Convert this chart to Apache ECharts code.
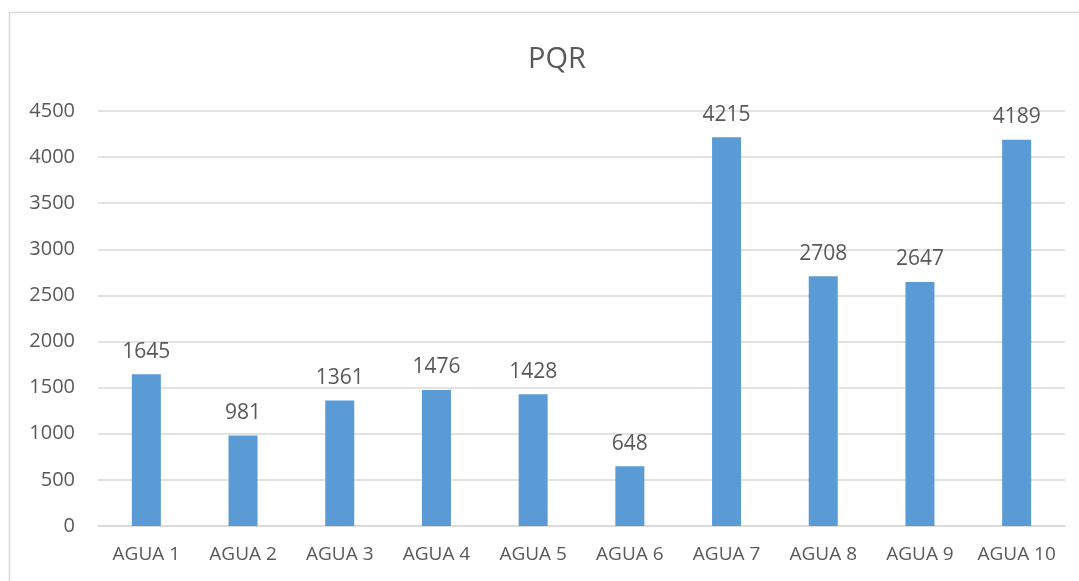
<!DOCTYPE html>
<html>
<head>
<meta charset="utf-8">
<script src="https://cdn.jsdelivr.net/npm/echarts@6/dist/echarts.min.js"></script>
<style>
  html, body { margin: 0; padding: 0; background: #fff; }
  #chart { width: 1079px; height: 581px; }
</style>
</head>
<body>
<div id="chart"></div>
<script>
const categories = ['AGUA 1', 'AGUA 2', 'AGUA 3', 'AGUA 4', 'AGUA 5', 'AGUA 6', 'AGUA 7', 'AGUA 8', 'AGUA 9', 'AGUA 10'];
const pqrValues = [1645, 981, 1361, 1476, 1428, 648, 4215, 2708, 2647, 4189];
const yTicks = { min: 0, max: 4500, interval: 500 };

const textColor = '#595959';
const fontFamily = '"Open Sans", "Liberation Sans", sans-serif';

const chart = echarts.init(document.getElementById('chart'), null, { renderer: 'canvas' });
chart.setOption({
  animation: false,
  backgroundColor: '#ffffff',
  graphic: [{
    type: 'rect',
    shape: { x: 9.5, y: 12.5, width: 1100, height: 600 },
    style: { fill: 'none', stroke: '#d9d9d9', lineWidth: 1.5 },
    silent: true
  }],
  title: {
    text: 'PQR',
    left: 523,
    top: 40,
    textStyle: { color: textColor, fontFamily, fontSize: 29, fontWeight: 'normal' }
  },
  grid: { left: 98, right: 14, top: 111, bottom: 55, containLabel: false },
  xAxis: {
    type: 'category',
    data: categories,
    axisLine: { show: true, lineStyle: { color: '#d9d9d9', width: 1.5 } },
    axisTick: { show: false },
    axisLabel: { interval: 0, color: textColor, fontFamily, fontSize: 19, margin: 19 }
  },
  yAxis: {
    type: 'value',
    min: yTicks.min,
    max: yTicks.max,
    interval: yTicks.interval,
    axisLine: { show: false },
    axisTick: { show: false },
    axisLabel: { color: textColor, fontFamily, fontSize: 20, margin: 23, formatter: v => String(v) },
    splitLine: { lineStyle: { color: '#d9d9d9', width: 1.5 } }
  },
  series: [{
    type: 'bar',
    data: pqrValues,
    barWidth: '30%',
    itemStyle: { color: '#5b9bd5' },
    label: {
      show: true,
      position: 'top',
      distance: 12,
      color: textColor,
      fontFamily,
      fontSize: 21
    }
  }]
});
</script>
</body>
</html>
